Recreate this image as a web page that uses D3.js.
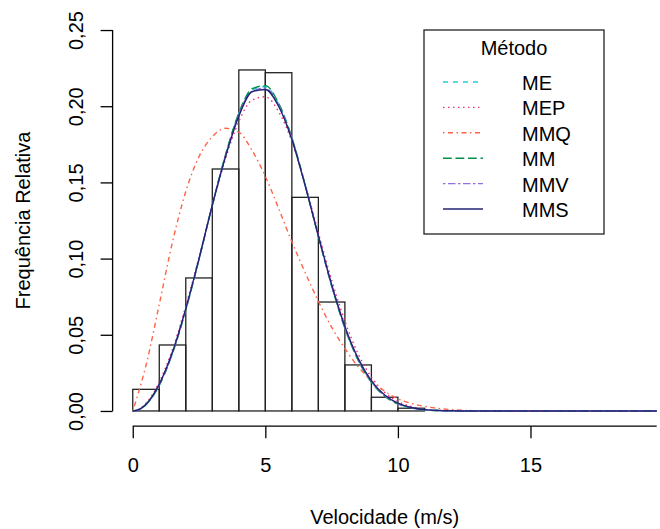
<!DOCTYPE html>
<html>
<head>
<meta charset="utf-8">
<script src="https://cdn.jsdelivr.net/npm/d3@7"></script>
<style>
body { margin: 0; background: #fff; }
svg text { font-family: "Liberation Sans", Arial, sans-serif; font-size: 20px; fill: #000; }
</style>
</head>
<body>
<div id="chart"></div>
<script>
// histogram (relative frequency per 1 m/s bin)
const binEdges = [0, 1, 2, 3, 4, 5, 6, 7, 8, 9, 10, 11];
const relFreq = [0.0142, 0.0433, 0.0873, 0.1588, 0.2238, 0.2220, 0.1402, 0.0715, 0.0302, 0.0090, 0.0018];

// fitted density curves
const gridX = [0, 0.25, 0.5, 1, 1.5, 2, 2.5, 3, 3.5, 4, 4.5, 5, 5.5, 6, 6.5, 7, 7.5, 8, 8.5, 9, 9.5, 10, 10.5, 11, 11.5, 12, 12.5, 13, 14, 16, 18, 20];
const densME  = [0, 0.0010, 0.0042, 0.0170, 0.0381, 0.0665, 0.0997, 0.1352, 0.1680, 0.1950, 0.2108, 0.2128, 0.2015, 0.1792, 0.1484, 0.1146, 0.0822, 0.0546, 0.0336, 0.0191, 0.0099, 0.0047, 0.0021, 0.0008, 0.0003, 0.0001, 0, 0, 0, 0, 0, 0];
const densMEP = [0, 0.0013, 0.0050, 0.0190, 0.0405, 0.0688, 0.1010, 0.1348, 0.1655, 0.1900, 0.2040, 0.2062, 0.1965, 0.1770, 0.1490, 0.1170, 0.0860, 0.0590, 0.0375, 0.0222, 0.0122, 0.0062, 0.0029, 0.0012, 0.0005, 0.0002, 0.0001, 0, 0, 0, 0, 0];
const densMMQ = [0, 0.014, 0.030, 0.070, 0.111, 0.144, 0.167, 0.180, 0.1855, 0.183, 0.171, 0.154, 0.133, 0.111, 0.091, 0.072, 0.055, 0.041, 0.029, 0.020, 0.013, 0.008, 0.005, 0.003, 0.0017, 0.0009, 0.0004, 0.0002, 0, 0, 0, 0];
const densMM  = [0, 0.0010, 0.0041, 0.0168, 0.0378, 0.0662, 0.0995, 0.1352, 0.1682, 0.1955, 0.2115, 0.2135, 0.2020, 0.1795, 0.1485, 0.1145, 0.0820, 0.0543, 0.0333, 0.0188, 0.0097, 0.0046, 0.0020, 0.0008, 0.0003, 0.0001, 0, 0, 0, 0, 0, 0];
const densMMV = [0, 0.0011, 0.0043, 0.0173, 0.0385, 0.0669, 0.0999, 0.1351, 0.1675, 0.1943, 0.2098, 0.2118, 0.2008, 0.1787, 0.1482, 0.1148, 0.0826, 0.0550, 0.0340, 0.0195, 0.0102, 0.0049, 0.0022, 0.0009, 0.0003, 0.0001, 0, 0, 0, 0, 0, 0];
const densMMS = [0, 0.0011, 0.0044, 0.0176, 0.0388, 0.0672, 0.1000, 0.1350, 0.1670, 0.1935, 0.2095, 0.2110, 0.2000, 0.1782, 0.1480, 0.1150, 0.0830, 0.0555, 0.0345, 0.0198, 0.0105, 0.0051, 0.0023, 0.0009, 0.0003, 0.0001, 0, 0, 0, 0, 0, 0];

const methods = ["ME", "MEP", "MMQ", "MM", "MMV", "MMS"];
const xTicks = [0, 5, 10, 15];
const yTicks = [0, 0.05, 0.10, 0.15, 0.20, 0.25];

const width = 660, height = 529;
const plot = {left: 112.6, right: 656.7, top: 14.8, bottom: 426.2};
const xlim = [0, 19], ylim = [0, 0.25];
const pad = 0.04; // R style axis expansion

const svg = d3.select("#chart")
    .append("svg")
    .attr("width", width)
    .attr("height", height)
    .attr("viewBox", `0 0 ${width} ${height}`);

const xSpan = xlim[1] - xlim[0], ySpan = ylim[1] - ylim[0];
const xScale = d3.scaleLinear()
    .domain([xlim[0] - pad * xSpan, xlim[1] + pad * xSpan])
    .range([plot.left, plot.right]);
const yScale = d3.scaleLinear()
    .domain([ylim[0] - pad * ySpan, ylim[1] + pad * ySpan])
    .range([plot.bottom, plot.top]);

svg.append("clipPath").attr("id", "plotclip")
  .append("rect")
    .attr("x", plot.left).attr("y", plot.top)
    .attr("width", plot.right - plot.left).attr("height", plot.bottom - plot.top);

//histogram bars
svg.append("g")
    .selectAll("rect")
    .data(relFreq)
    .join("rect")
    .attr("x", (d, i) => xScale(binEdges[i]))
    .attr("y", d => yScale(d))
    .attr("width", (d, i) => xScale(binEdges[i + 1]) - xScale(binEdges[i]))
    .attr("height", d => yScale(0) - yScale(d))
    .attr("fill", "none")
    .attr("stroke", "#222")
    .attr("stroke-width", 1.3);

//curves
const series = [
    {name: "ME",  values: densME,  color: "#1fcfd6", dash: "5,5"},
    {name: "MEP", values: densMEP, color: "#e8317f", dash: "1.5,3.5"},
    {name: "MMQ", values: densMMQ, color: "#ff6347", dash: "1.5,3.5,5,3.5"},
    {name: "MM",  values: densMM,  color: "#00904a", dash: "8.75,3.75"},
    {name: "MMV", values: densMMV, color: "#9070e0", dash: "2.5,2.5,7.5,2.5"},
    {name: "MMS", values: densMMS, color: "#232375", dash: null}
];

const line = d3.line()
    .x(d => xScale(d[0]))
    .y(d => yScale(d[1]))
    .curve(d3.curveMonotoneX);

const curves = svg.append("g").attr("clip-path", "url(#plotclip)");
series.forEach(s => {
    curves.append("path")
        .datum(gridX.map((xv, i) => [xv, s.values[i]]))
        .attr("fill", "none")
        .attr("stroke", s.color)
        .attr("stroke-width", 1.4)
        .attr("stroke-dasharray", s.dash)
        .attr("d", line);
});

//axes
const bottomAxis = d3.axisBottom(xScale)
    .tickValues(xTicks)
    .tickSizeInner(12)
    .tickSizeOuter(0);
const gx = svg.append("g")
    .attr("transform", `translate(0, ${plot.bottom})`)
    .call(bottomAxis);
gx.select(".domain").attr("d", `M${xScale(xTicks[0])},0H${plot.right}`);
gx.selectAll(".tick line, .domain").attr("stroke", "#000").attr("stroke-width", 1.3);
gx.selectAll(".tick text").attr("y", 46.3).attr("dy", null);

const leftAxis = d3.axisLeft(yScale)
    .tickValues(yTicks)
    .tickSizeInner(12)
    .tickSizeOuter(0)
    .tickFormat(d => d3.format(".2f")(d).replace(".", ","));
const gy = svg.append("g")
    .attr("transform", `translate(${plot.left}, 0)`)
    .call(leftAxis);
gy.select(".domain").attr("d", `M0,${yScale(yTicks[0])}V${yScale(yTicks[yTicks.length - 1])}`);
gy.selectAll(".tick line, .domain").attr("stroke", "#000").attr("stroke-width", 1.3);
gy.selectAll(".tick text")
    .attr("transform", "rotate(-90)")
    .attr("text-anchor", "middle")
    .attr("x", 0)
    .attr("y", -30)
    .attr("dy", null);

//axis labels
svg.append("text")
    .text("Velocidade (m/s)")
    .attr("text-anchor", "middle")
    .attr("x", (plot.left + plot.right) / 2)
    .attr("y", 524);

svg.append("text")
    .text("Frequência Relativa")
    .attr("text-anchor", "middle")
    .attr("transform", `translate(30, ${(plot.top + plot.bottom) / 2}) rotate(-90)`);

//legend
const legend = svg.append("g").attr("transform", "translate(424, 30)");
legend.append("rect")
    .attr("width", 180).attr("height", 204)
    .attr("fill", "#fff").attr("stroke", "#222").attr("stroke-width", 1.3);
legend.append("text")
    .text("Método")
    .attr("text-anchor", "middle")
    .attr("x", 90).attr("y", 25);
const rowY = d3.scalePoint().domain(methods).range([53, 180]);
series.forEach(s => {
    legend.append("line")
        .attr("x1", 19).attr("x2", 59)
        .attr("y1", rowY(s.name) - 1).attr("y2", rowY(s.name) - 1)
        .attr("stroke", s.color)
        .attr("stroke-width", 1.4)
        .attr("stroke-dasharray", s.dash);
    legend.append("text")
        .text(s.name)
        .attr("x", 98)
        .attr("y", rowY(s.name) + 7);
});
</script>
</body>
</html>
